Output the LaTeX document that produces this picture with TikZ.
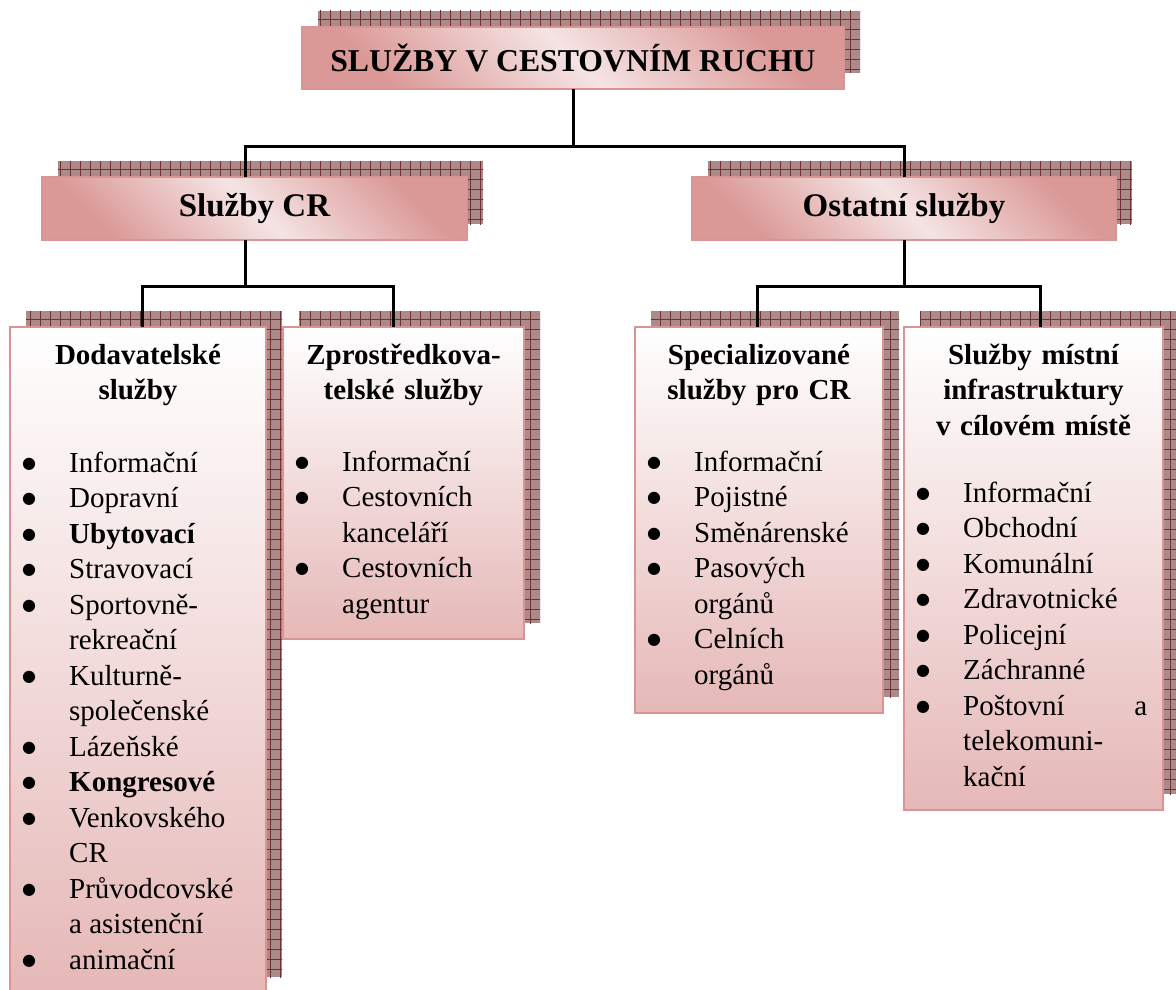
\documentclass[tikz,border=0pt]{standalone}
\usepackage{fontspec}
\setmainfont{Liberation Serif}
\newfontfamily\symfont{DejaVu Sans}
\usetikzlibrary{positioning,calc,patterns.meta,backgrounds}

\definecolor{roseline}{HTML}{D99594}
\definecolor{rosedark}{HTML}{DA9896}
\definecolor{roselight}{HTML}{F5E4E4}
\definecolor{rosebottom}{HTML}{E5B8B7}
\definecolor{shadowbase}{HTML}{AC8A8A}
\definecolor{shadowline}{HTML}{6E3030}

\newcommand{\bul}{\raisebox{4pt}{\symfont\fontsize{16}{16}\selectfont ●}}

\tikzset{
  mainbox/.style={draw=roseline, line width=2.5pt, anchor=north west, inner sep=0pt, outer sep=0pt,
    top color=rosedark, bottom color=rosedark, middle color=roselight, shading angle=-45},
  subbox/.style={draw=roseline, line width=2.5pt, anchor=north west, inner sep=0pt, outer sep=0pt,
    top color=white, bottom color=rosebottom},
  boxhead/.style={anchor=base, inner sep=0pt, align=center, font=\fontsize{29}{35.5}\selectfont\bfseries},
  boxlist/.style={anchor=base west, inner sep=0pt, font=\fontsize{29}{35.5}\selectfont},
  link/.style={line width=3pt},
  gridshadow/.style={fill=shadowbase, postaction={pattern={Hatch[distance=10pt, line width=1pt]}, pattern color=shadowline}}
}

\begin{document}
\begin{tikzpicture}[x=1pt, y=-1pt]
    \useasboundingbox (0,0) rectangle (1176,990);

    %coordinates
    \coordinate (T)   at (302,27);
    \coordinate (CR)  at (42,177);
    \coordinate (OS)  at (692,177);
    \coordinate (DO)  at (10,327);
    \coordinate (ZP)  at (283,327);
    \coordinate (SP)  at (635,327);
    \coordinate (MI)  at (904,327);

    \coordinate (bustop)   at (573,146);
    \coordinate (busleft)  at (245,286);
    \coordinate (busright) at (904,286);

    %nodes
    \node[mainbox, minimum width=542pt, minimum height=62pt, font=\fontsize{31.75}{38}\selectfont\bfseries] (top) at (T) {SLUŽBY V CESTOVNÍM RUCHU};
    \node[mainbox, minimum width=425pt, minimum height=63pt, font=\fontsize{33}{38}\selectfont\bfseries] (cr) at (CR) {Služby CR};
    \node[mainbox, minimum width=424pt, minimum height=63pt, font=\fontsize{33}{38}\selectfont\bfseries] (ost) at (OS) {Ostatní služby};

    \node[subbox, minimum width=256pt, minimum height=666pt] (dod) at (DO) {};
    \node[subbox, minimum width=241pt, minimum height=312pt] (zpr) at (ZP) {};
    \node[subbox, minimum width=248pt, minimum height=386pt] (spe) at (SP) {};
    \node[subbox, minimum width=259pt, minimum height=483pt] (mis) at (MI) {};

    %shadows
    \begin{scope}[on background layer]
      \foreach \b in {top,cr,ost,dod,zpr,spe,mis}
        \fill[gridshadow] ([xshift=16pt,yshift=16pt]\b.north west) rectangle ([xshift=16pt,yshift=16pt]\b.south east);
    \end{scope}

    %texts
    \node[boxhead, text width=256pt] (dodh) at ([yshift=-37pt]dod.north) {Dodavatelské\\služby};
    \node[boxhead, text width=241pt] (zprh) at ([yshift=-37pt]zpr.north) {Zprostředkova-\\telské služby};
    \node[boxhead, text width=248pt] (speh) at ([yshift=-37pt]spe.north) {Specializované\\služby pro CR};
    \node[boxhead, text width=259pt] (mish) at ([yshift=-37pt]mis.north) {Služby místní\\infrastruktury\\v cílovém místě};

    \node[boxlist] (dodl) at ([xshift=12pt, yshift=-145pt]dod.north west) {\begin{tabular}[t]{@{}p{47pt}@{}l@{}}
      \bul & Informační\\
      \bul & Dopravní\\
      \bul & \textbf{Ubytovací}\\
      \bul & Stravovací\\
      \bul & Sportovně-\\
           & rekreační\\
      \bul & Kulturně-\\
           & společenské\\
      \bul & Lázeňské\\
      \bul & \textbf{Kongresové}\\
      \bul & Venkovského\\
           & CR\\
      \bul & Průvodcovské\\
           & a asistenční\\
      \bul & animační
    \end{tabular}};
    \node[boxlist] (zprl) at ([xshift=12pt, yshift=-144pt]zpr.north west) {\begin{tabular}[t]{@{}p{47pt}@{}l@{}}
      \bul & Informační\\
      \bul & Cestovních\\
           & kanceláří\\
      \bul & Cestovních\\
           & agentur
    \end{tabular}};
    \node[boxlist] (spel) at ([xshift=12pt, yshift=-144pt]spe.north west) {\begin{tabular}[t]{@{}p{47pt}@{}l@{}}
      \bul & Informační\\
      \bul & Pojistné\\
      \bul & Směnárenské\\
      \bul & Pasových\\
           & orgánů\\
      \bul & Celních\\
           & orgánů
    \end{tabular}};
    \node[boxlist] (misl) at ([xshift=12pt, yshift=-175pt]mis.north west) {\begin{tabular}[t]{@{}p{47pt}@{}p{184pt}@{}}
      \bul & Informační\\
      \bul & Obchodní\\
      \bul & Komunální\\
      \bul & Zdravotnické\\
      \bul & Policejní\\
      \bul & Záchranné\\
      \bul & Poštovní\hfill a\\
           & telekomuni-\\
           & kační
    \end{tabular}};

    %edges
    \draw[link] (top.south) -- (bustop);
    \draw[link] ([xshift=-9.5pt]cr.north) |- (bustop) -| (ost.north);
    \draw[link] ([xshift=-9.5pt]cr.south) -- (busleft);
    \draw[link] ([xshift=4pt]dod.north) |- (busleft) -| ([xshift=-10.5pt]zpr.north);
    \draw[link] (ost.south) -- (busright);
    \draw[link] ([xshift=-2pt]spe.north) |- (busright) -| ([xshift=6.5pt]mis.north);
\end{tikzpicture}
\end{document}
